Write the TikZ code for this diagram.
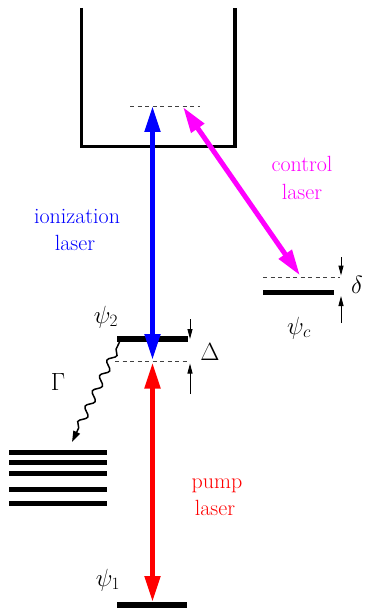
\documentclass[tikz,border=0pt]{standalone}
\usetikzlibrary{arrows.meta,decorations.pathmorphing}
\definecolor{ionblue}{RGB}{0,0,255}
\definecolor{ctrlmag}{RGB}{255,0,255}
\definecolor{pumpred}{RGB}{255,0,0}
\begin{document}
\begin{tikzpicture}[x=1pt,y=-1pt,
 level/.style={line width=5.5pt},
 virt/.style={line width=0.9pt, dash pattern=on 4pt off 3.5pt, black!75},
 laser/.style={line width=5pt, {Triangle[length=26pt,width=15pt]}-{Triangle[length=26pt,width=15pt]}},
 gapar/.style={line width=1pt, -{Triangle[length=10pt,width=5pt]}},
 lbl/.style={font=\fontsize{22}{28}\selectfont, anchor=base, inner sep=0pt},
 sym/.style={font=\fontsize{24}{28}\selectfont, inner sep=0pt}
]
\useasboundingbox (0,0) rectangle (365,612);
% ionization chamber
\draw[line width=3.2pt] (81.7,8) -- (81.7,146.7) -- (235,146.7) -- (235,8);
% virtual level in continuum
\coordinate (ionL) at (130,106);
\coordinate (ionR) at (200,106);
\draw[virt] (ionL) -- (ionR);
\coordinate (ionB) at (152.5,106);
\coordinate (ionC) at (183,107);
% psi2 level
\coordinate (p2L) at (117,339);
\coordinate (p2R) at (188,339);
\draw[level] (p2L) -- (p2R);
\coordinate (vL) at (115,361.5);
\coordinate (vR) at (188,361.5);
\draw[virt] (vL) -- (vR);
\coordinate (blueB) at (152.5,360);
\coordinate (redT) at (152.5,362.5);
% psi1 level
\coordinate (p1L) at (117,605);
\coordinate (p1R) at (187,605);
\draw[level] (p1L) -- (p1R);
\coordinate (redB) at (152.5,602);
% psi c level
\coordinate (pcL) at (263,292.5);
\coordinate (pcR) at (334,292.5);
\draw[level] (pcL) -- (pcR);
\coordinate (cvL) at (263,277.5);
\coordinate (cvR) at (340,277.5);
\draw[virt] (cvL) -- (cvR);
\coordinate (magB) at (300,275.5);
% lasers
\draw[laser, ionblue] (blueB) -- (ionB);
\draw[laser, ctrlmag] (magB) -- (ionC);
\draw[laser, pumpred] (redT) -- (redB);
% delta arrows
\coordinate (dA) at (341,257);
\coordinate (dA2) at (341,275.5);
\coordinate (dB) at (341,323);
\coordinate (dB2) at (341,296);
\draw[gapar] (dA) -- (dA2);
\draw[gapar] (dB) -- (dB2);
% Delta arrows
\coordinate (DA) at (190,319);
\coordinate (DA2) at (190,339);
\coordinate (DB) at (190,394);
\coordinate (DB2) at (190,363.5);
\draw[gapar] (DA) -- (DA2);
\draw[gapar] (DB) -- (DB2);
% decay
\coordinate (gS) at (119.5,342);
\coordinate (gE) at (72,442);
\draw[line width=1.5pt, decorate, decoration={snake, amplitude=3.6pt, segment length=17pt, pre length=8pt, post length=9pt}, -{Triangle[length=11pt,width=7pt]}] (gS) -- (gE);
% band of levels
\foreach \yy in {452,462.5,473,489,503} \draw[line width=5pt] (9,\yy) -- (107,\yy);
% labels
\node[lbl, ctrlmag] (c1) at (302,171.7) {control};
\node[lbl, ctrlmag] (c2) at (302,200) {laser};
\node[lbl, ionblue] (i1) at (77,223) {ionization};
\node[lbl, ionblue] (i2) at (75,250) {laser};
\node[lbl, pumpred] (r1) at (217,488) {pump};
\node[lbl, pumpred] (r2) at (215,515) {laser};
\node[sym] (psi2) at (106,317) {$\psi_2$};
\node[sym] (psi1) at (108,580) {$\psi_1$};
\node[sym] (psic) at (299,328) {$\psi_c$};
\node[sym] (dl) at (357,285) {$\delta$};
\node[sym] (Dl) at (210,352) {$\Delta$};
\node[sym] (Gl) at (58,382) {$\Gamma$};
\end{tikzpicture}
\end{document}
